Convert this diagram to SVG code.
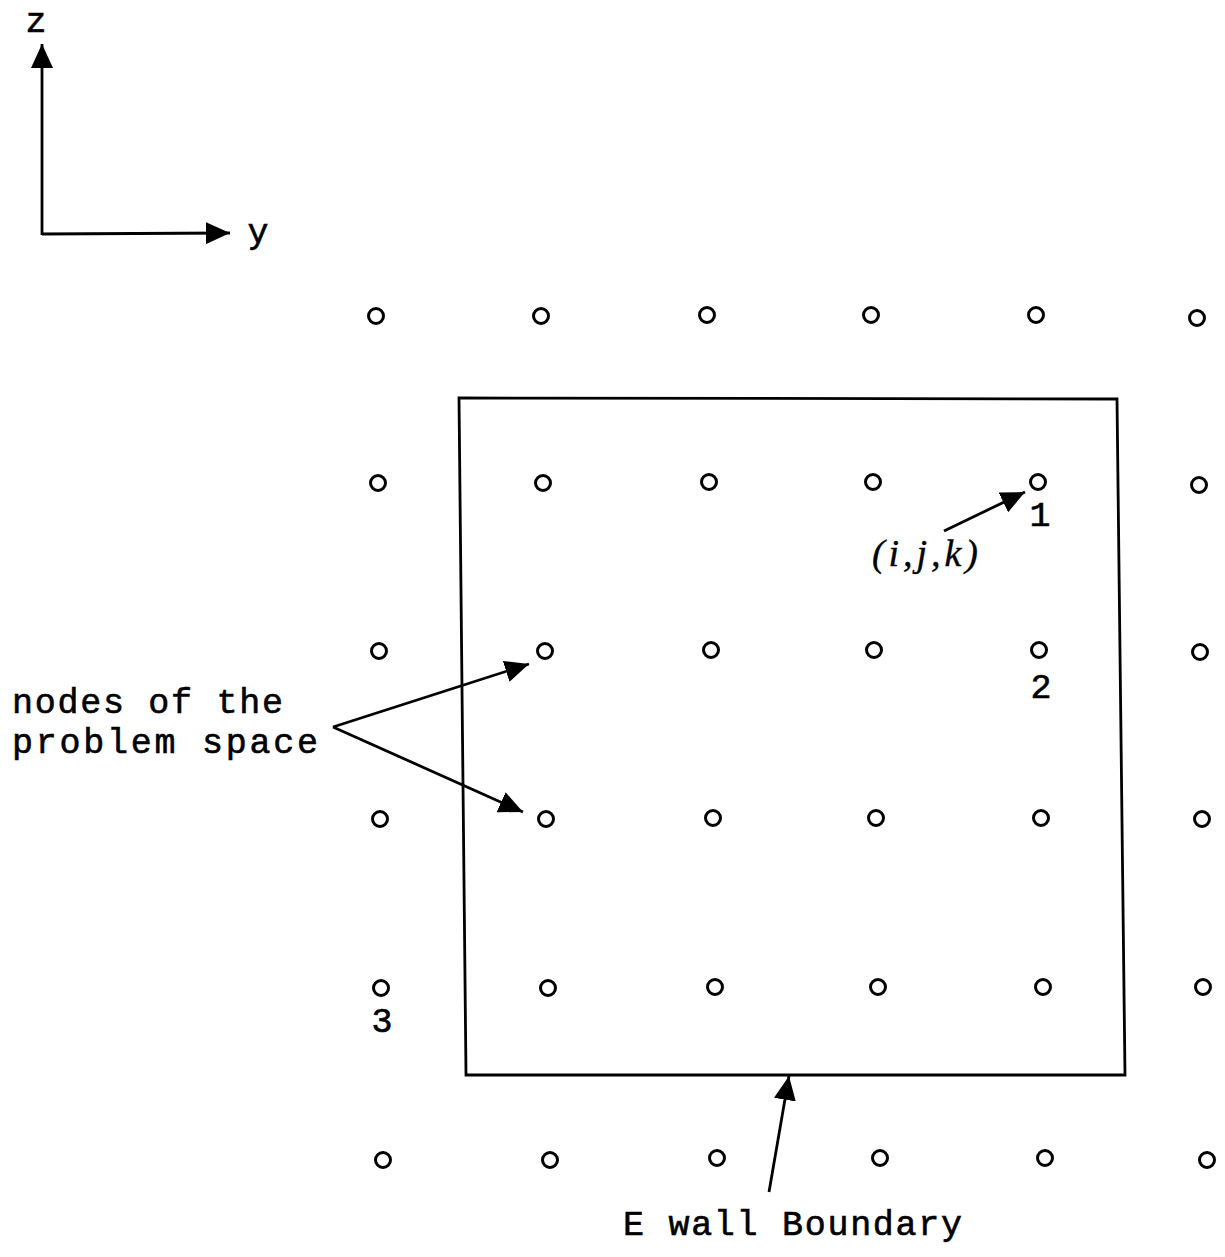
<svg xmlns="http://www.w3.org/2000/svg" width="1225" height="1257" viewBox="0 0 1225 1257">
<defs>
<style>
.n{fill:none;stroke:#000;stroke-width:3}
.ln{fill:none;stroke:#000;stroke-width:2.8}
.t{font-family:"Liberation Mono","DejaVu Sans Mono",monospace;font-size:35px;fill:#000;stroke:#000;stroke-width:0.6}
.it{font-family:"Liberation Serif","DejaVu Serif",serif;font-style:italic;font-size:38px;fill:#000;stroke:#000;stroke-width:0.4}
</style>
<marker id="ah" markerUnits="userSpaceOnUse" markerWidth="26" markerHeight="22" refX="24" refY="11" orient="auto">
<path d="M0,0 L24,11 L0,22 Z" fill="#000"/>
</marker>
</defs>
<rect width="1225" height="1257" fill="#fff"/>
<g id="axes">
<line class="ln" x1="42" y1="235" x2="42" y2="44" marker-end="url(#ah)"/>
<line class="ln" x1="42" y1="234" x2="230" y2="233" marker-end="url(#ah)"/>
<text class="t" x="36" y="32" text-anchor="middle">z</text>
<text class="t" x="258" y="243" text-anchor="middle">y</text>
</g>
<g id="boundary">
<polygon class="ln" points="459,398 1117,399 1125,1075 466,1075"/>
</g>
<g id="nodes">
<g id="row1"><circle class="n" cx="376" cy="316" r="7.5"/><circle class="n" cx="541" cy="316" r="7.5"/><circle class="n" cx="707" cy="315" r="7.5"/><circle class="n" cx="871" cy="315" r="7.5"/><circle class="n" cx="1036" cy="315" r="7.5"/><circle class="n" cx="1197" cy="318" r="7.5"/></g>
<g id="row2"><circle class="n" cx="378" cy="483" r="7.5"/><circle class="n" cx="543" cy="483" r="7.5"/><circle class="n" cx="709" cy="482" r="7.5"/><circle class="n" cx="873" cy="482" r="7.5"/><circle class="n" cx="1038" cy="482" r="7.5"/><circle class="n" cx="1199" cy="485" r="7.5"/></g>
<g id="row3"><circle class="n" cx="379" cy="651" r="7.5"/><circle class="n" cx="545" cy="651" r="7.5"/><circle class="n" cx="711" cy="650" r="7.5"/><circle class="n" cx="874" cy="650" r="7.5"/><circle class="n" cx="1039" cy="650" r="7.5"/><circle class="n" cx="1200" cy="652" r="7.5"/></g>
<g id="row4"><circle class="n" cx="380" cy="819" r="7.5"/><circle class="n" cx="546" cy="819" r="7.5"/><circle class="n" cx="713" cy="818" r="7.5"/><circle class="n" cx="876" cy="818" r="7.5"/><circle class="n" cx="1041" cy="818" r="7.5"/><circle class="n" cx="1202" cy="819" r="7.5"/></g>
<g id="row5"><circle class="n" cx="381" cy="988" r="7.5"/><circle class="n" cx="548" cy="988" r="7.5"/><circle class="n" cx="715" cy="987" r="7.5"/><circle class="n" cx="878" cy="987" r="7.5"/><circle class="n" cx="1043" cy="987" r="7.5"/><circle class="n" cx="1203" cy="987" r="7.5"/></g>
<g id="row6"><circle class="n" cx="383" cy="1160" r="7.5"/><circle class="n" cx="550" cy="1160" r="7.5"/><circle class="n" cx="717" cy="1158" r="7.5"/><circle class="n" cx="880" cy="1158" r="7.5"/><circle class="n" cx="1045" cy="1158" r="7.5"/><circle class="n" cx="1207" cy="1160" r="7.5"/></g>
</g>
<g id="labels">
<text class="t" x="1040" y="526" text-anchor="middle">1</text>
<text class="t" x="1041" y="698" text-anchor="middle">2</text>
<text class="t" x="382" y="1032" text-anchor="middle">3</text>
<text class="it" x="872" y="566" textLength="106" lengthAdjust="spacing">(i,j,k)</text>
<text class="t" x="12" y="713" textLength="271" lengthAdjust="spacing">nodes of the</text>
<text class="t" x="12" y="753" textLength="306" lengthAdjust="spacing">problem space</text>
<text class="t" x="623" y="1235" textLength="339" lengthAdjust="spacing">E wall Boundary</text>
</g>
<g id="connectors">
<line class="ln" x1="944" y1="531" x2="1025" y2="492" marker-end="url(#ah)"/>
<line class="ln" x1="333" y1="727" x2="529" y2="664" marker-end="url(#ah)"/>
<line class="ln" x1="333" y1="727" x2="523" y2="812" marker-end="url(#ah)"/>
<line class="ln" x1="769" y1="1192" x2="789" y2="1076" marker-end="url(#ah)"/>
</g>
</svg>
